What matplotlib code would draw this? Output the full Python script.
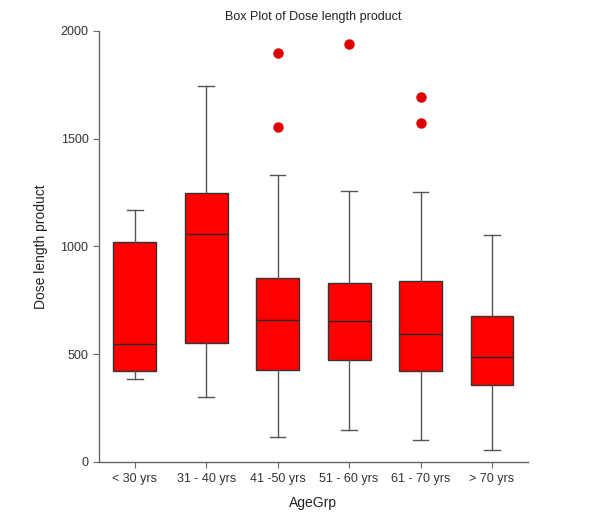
import matplotlib
matplotlib.use("Agg")
import matplotlib.pyplot as plt

plt.rcParams["font.family"] = ["Liberation Sans", "DejaVu Sans"]

# Data
groups = ["< 30 yrs", "31 - 40 yrs", "41 -50 yrs", "51 - 60 yrs", "61 - 70 yrs", "> 70 yrs"]
whislo = [385, 302, 116, 150, 102, 54]
q1 = [421, 554, 427, 473, 421, 359]
med = [546, 1057, 659, 656, 592, 487]
q3 = [1022, 1247, 854, 831, 841, 677]
whishi = [1171, 1745, 1329, 1259, 1251, 1052]
fliers = [[], [], [1897, 1553], [1938], [1695, 1570], []]

stats = []
for i, name in enumerate(groups):
    stats.append(dict(label=name, whislo=whislo[i], q1=q1[i], med=med[i],
                      q3=q3[i], whishi=whishi[i], fliers=fliers[i]))

fig = plt.figure(figsize=(5.89, 5.31), dpi=100)
ax = fig.add_axes([0.168, 0.130, 0.728, 0.812])

gray = "#555555"
ax.bxp(stats, positions=range(len(groups)), widths=0.6, capwidths=0.22,
       patch_artist=True, showfliers=True,
       boxprops=dict(facecolor="#ff0000", edgecolor="#333333", linewidth=1.0),
       medianprops=dict(color="#2a2a2a", linewidth=1.0),
       whiskerprops=dict(color=gray, linewidth=1.0),
       capprops=dict(color=gray, linewidth=1.0),
       flierprops=dict(marker="o", markerfacecolor="#e00000",
                       markeredgecolor="#e00000", markersize=6.5))

ax.set_xlim(-0.5, 5.5)
ax.set_ylim(0, 2000)
ax.set_yticks([0, 500, 1000, 1500, 2000])
ax.set_xticks(range(len(groups)))
ax.set_xticklabels(groups)

for side in ["top", "right"]:
    ax.spines[side].set_visible(False)
for side in ["left", "bottom"]:
    ax.spines[side].set_color("#666666")
    ax.spines[side].set_linewidth(1.0)

ax.tick_params(axis="both", colors="#666666", labelcolor="#333333",
               labelsize=9, length=4.5, direction="out")
ax.tick_params(axis="y", pad=3)

ax.set_xlabel("AgeGrp", fontsize=10, color="#222222", labelpad=8)
ax.set_ylabel("Dose length product", fontsize=10, color="#222222", labelpad=9)
ax.set_title("Box Plot of Dose length product", fontsize=9, color="#222222", pad=8)

fig.savefig("out.png", dpi=100)
